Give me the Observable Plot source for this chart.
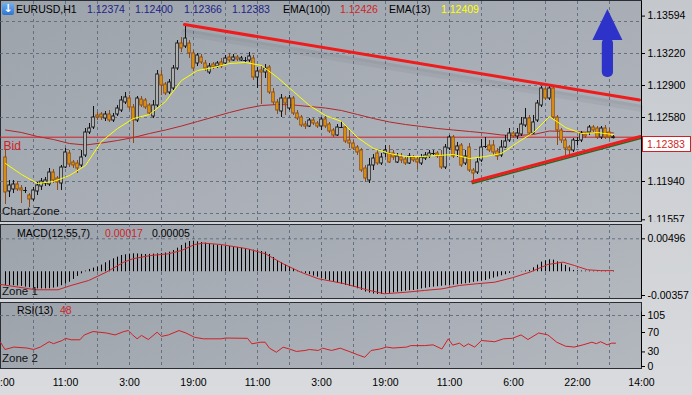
<!DOCTYPE html>
<html><head><meta charset="utf-8">
<script src="https://cdn.jsdelivr.net/npm/d3@7"></script>
<script src="https://cdn.jsdelivr.net/npm/@observablehq/plot@0.6"></script>
<style>
body{margin:0;background:#c9ccd1;}
#wrap{position:relative;width:692px;height:395px;overflow:hidden;background:linear-gradient(180deg,#c4c7cc,#d9dbde);font-family:"Liberation Sans",Arial,sans-serif;}
.panel{position:absolute;left:0;width:642px;box-sizing:border-box;border:1px solid #2a2d33;background:linear-gradient(160deg,#9da3ab,#b3b8bf);}
.lbl{position:absolute;white-space:nowrap;font-size:10.5px;line-height:13px;color:#000;}
#wrap svg{position:absolute;left:0;}
</style></head>
<body><div id="wrap">
<div class="panel" style="top:0;height:222px"></div>
<div class="panel" style="top:224px;height:75px"></div>
<div class="panel" style="top:302px;height:67px"></div>
</div>
<script>
// ---------- DATA ----------
const symbol = "EURUSD,H1";
const lastBar = [1.12374, 1.12400, 1.12366, 1.12383];
const bid = 1.12383;
const ema100Last = 1.12426, ema13Last = 1.12409;

const open = [1.1218,1.1184,1.1186,1.1191,1.1187,1.1185,1.1180,1.1176,1.1184,1.1189,
1.1192,1.1191,1.1203,1.1197,1.1192,1.1208,1.1222,1.1213,1.1212,1.1210,
1.1220,1.1243,1.1248,1.1260,1.1261,1.1257,1.1261,1.1255,1.1261,1.1265,
1.1273,1.1277,1.1268,1.1255,1.1276,1.1275,1.1270,1.1259,1.1270,1.1300,
1.1291,1.1283,1.1287,1.1307,1.1332,1.1329,1.1332,1.1322,1.1312,1.1318,
1.1312,1.1303,1.1311,1.1309,1.1313,1.1312,1.1318,1.1315,1.1318,1.1315,
1.1315,1.1315,1.1317,1.1298,1.1305,1.1303,1.1308,1.1283,1.1273,1.1264,
1.1277,1.1267,1.1277,1.1262,1.1258,1.1251,1.1249,1.1255,1.1252,1.1249,
1.1256,1.1251,1.1245,1.1240,1.1248,1.1248,1.1235,1.1232,1.1228,1.1225,
1.1207,1.1195,1.1210,1.1222,1.1212,1.1222,1.1222,1.1222,1.1213,1.1218,
1.1216,1.1212,1.1218,1.1216,1.1212,1.1217,1.1219,1.1222,1.1222,1.1219,
1.1208,1.1227,1.1238,1.1225,1.1230,1.1212,1.1228,1.1205,1.1203,1.1215,
1.1229,1.1230,1.1230,1.1224,1.1220,1.1228,1.1235,1.1242,1.1239,1.1241,
1.1250,1.1257,1.1242,1.1255,1.1270,1.1286,1.1277,1.1287,1.1258,1.1245,
1.1235,1.1228,1.1225,1.1235,1.1235,1.1241,1.1243,1.1248,1.1247,1.1238,
1.1247,1.1243,1.12374];
const high = [1.1225,1.1195,1.1195,1.1194,1.1190,1.1188,1.1182,1.1188,1.1193,1.1197,
1.1198,1.1207,1.1206,1.1199,1.1210,1.1227,1.1225,1.1215,1.1215,1.1225,
1.1247,1.1252,1.1269,1.1263,1.1263,1.1264,1.1265,1.1262,1.1270,1.1279,
1.1283,1.1280,1.1271,1.1279,1.1279,1.1277,1.1272,1.1275,1.1305,1.1305,
1.1293,1.1296,1.1310,1.1335,1.1338,1.1351,1.1335,1.1325,1.1322,1.1321,
1.1315,1.1312,1.1313,1.1314,1.1317,1.1320,1.1322,1.1321,1.1320,1.1319,
1.1318,1.1323,1.1320,1.1308,1.1309,1.1311,1.1310,1.1287,1.1276,1.1281,
1.1279,1.1280,1.1279,1.1265,1.1260,1.1254,1.1257,1.1257,1.1254,1.1258,
1.1259,1.1253,1.1247,1.1251,1.1254,1.1250,1.1245,1.1235,1.1230,1.1227,
1.1210,1.1217,1.1221,1.1225,1.1222,1.1230,1.1230,1.1225,1.1222,1.1222,
1.1218,1.1222,1.1220,1.1218,1.1221,1.1223,1.1225,1.1225,1.1224,1.1225,
1.1231,1.1240,1.1240,1.1233,1.1232,1.1225,1.1232,1.1207,1.1217,1.1236,
1.1238,1.1235,1.1235,1.1227,1.1235,1.1240,1.1247,1.1244,1.1247,1.1258,
1.1267,1.1260,1.1260,1.1275,1.1289,1.1288,1.1289,1.1289,1.1260,1.1247,
1.1237,1.1230,1.1237,1.1238,1.1244,1.1243,1.1250,1.1250,1.1249,1.1249,
1.1250,1.1247,1.12400];
const low = [1.1171,1.1178,1.1182,1.1184,1.1172,1.1182,1.1168,1.1174,1.1180,1.1185,
1.1189,1.1189,1.1192,1.1185,1.1185,1.1207,1.1208,1.1207,1.1202,1.1208,
1.1218,1.1241,1.1246,1.1255,1.1255,1.1254,1.1253,1.1253,1.1259,1.1263,
1.1271,1.1265,1.1232,1.1253,1.1268,1.1266,1.1260,1.1257,1.1268,1.1280,
1.1280,1.1281,1.1285,1.1305,1.1323,1.1327,1.1317,1.1304,1.1309,1.1311,
1.1304,1.1301,1.1306,1.1307,1.1307,1.1310,1.1313,1.1314,1.1314,1.1314,
1.1313,1.1313,1.1295,1.1287,1.1271,1.1297,1.1281,1.1270,1.1261,1.1258,
1.1260,1.1265,1.1260,1.1255,1.1248,1.1246,1.1248,1.1250,1.1247,1.1245,
1.1247,1.1242,1.1238,1.1239,1.1247,1.1232,1.1227,1.1225,1.1220,1.1203,
1.1193,1.1192,1.1205,1.1210,1.1210,1.1218,1.1212,1.1215,1.1212,1.1212,
1.1210,1.1211,1.1213,1.1206,1.1210,1.1215,1.1217,1.1220,1.1217,1.1206,
1.1206,1.1225,1.1217,1.1218,1.1208,1.1210,1.1203,1.1193,1.1201,1.1213,
1.1227,1.1223,1.1220,1.1215,1.1218,1.1227,1.1233,1.1237,1.1236,1.1239,
1.1248,1.1240,1.1241,1.1253,1.1268,1.1275,1.1275,1.1256,1.1230,1.1232,
1.1220,1.1220,1.1223,1.1230,1.1233,1.1237,1.1240,1.1242,1.1236,1.1236,
1.1236,1.1236,1.12366];
const close = [1.1183,1.1190,1.1191,1.1186,1.1185,1.1185,1.1176,1.1185,1.1190,1.1194,
1.1195,1.1203,1.1195,1.1193,1.1208,1.1223,1.1211,1.1210,1.1207,1.1218,
1.1243,1.1247,1.1258,1.1258,1.1258,1.1261,1.1255,1.1259,1.1267,1.1275,
1.1278,1.1268,1.1255,1.1277,1.1270,1.1268,1.1262,1.1270,1.1301,1.1290,
1.1282,1.1293,1.1307,1.1332,1.1327,1.1337,1.1322,1.1307,1.1320,1.1313,
1.1307,1.1309,1.1308,1.1312,1.1309,1.1317,1.1315,1.1318,1.1316,1.1317,
1.1315,1.1319,1.1298,1.1304,1.1303,1.1307,1.1283,1.1273,1.1265,1.1277,
1.1272,1.1277,1.1262,1.1257,1.1250,1.1249,1.1255,1.1252,1.1249,1.1256,
1.1249,1.1244,1.1240,1.1248,1.1248,1.1234,1.1232,1.1227,1.1223,1.1205,
1.1197,1.1210,1.1217,1.1212,1.1218,1.1225,1.1213,1.1218,1.1219,1.1215,
1.1212,1.1219,1.1215,1.1213,1.1218,1.1220,1.1222,1.1222,1.1219,1.1208,
1.1228,1.1238,1.1219,1.1229,1.1210,1.1219,1.1205,1.1202,1.1213,1.1228,
1.1229,1.1225,1.1223,1.1219,1.1228,1.1234,1.1242,1.1239,1.1242,1.1251,
1.1257,1.1242,1.1253,1.1272,1.1287,1.1277,1.1287,1.1258,1.1245,1.1235,
1.1227,1.1225,1.1235,1.1235,1.1242,1.1239,1.1248,1.1245,1.1238,1.1247,
1.1238,1.1238,1.12383];

// moving averages read every 4th bar
const emaIdx = [0,4,8,12,16,20,24,28,32,36,40,44,48,52,56,60,64,68,72,76,80,84,88,92,96,100,104,108,112,116,120,124,128,132,136,140,144,148,152];
const ema13 = [1.1212,1.1201,1.1192,1.1194,1.1200,1.1210,1.1234,1.1247,1.1257,1.1261,1.1274,1.1295,1.1305,1.1308,1.1312,1.1313,1.1310,1.1298,1.1284,1.1270,1.1260,1.1254,1.1238,1.1227,1.1222,1.1219,1.1219,1.1220,1.1221,1.1217,1.1219,1.1222,1.1233,1.1243,1.1259,1.1248,1.1242,1.1243,1.12409];
const ema100 = [1.12455,1.1243,1.1239,1.1236,1.1232,1.12305,1.12325,1.1235,1.1238,1.1242,1.12455,1.12495,1.1254,1.12585,1.1263,1.1267,1.1270,1.1271,1.12705,1.1269,1.12675,1.1265,1.1261,1.1257,1.12535,1.1251,1.1249,1.1247,1.12455,1.1244,1.12425,1.12405,1.1240,1.1241,1.12445,1.1244,1.12435,1.1243,1.12426];

// trend lines (bar index, price)
const upperTrendIdx = [44.75, 158.5], upperTrendPrice = [1.1351, 1.12755];
const lowerTrendIdx = [116.75, 158.75], lowerTrendPrice = [1.1194, 1.1239];
// arrow object
const arrowAt = 150.6, arrowTip = 1.1366, arrowNeck = 1.1335, arrowTail = 1.1298;

// axes
const priceTicks = [1.13594, 1.13220, 1.12900, 1.12580, 1.11940, 1.11557];
const priceGrid = [1.13540, 1.13220, 1.12900, 1.12580, 1.12260, 1.11940, 1.11620];
const timeIdx = [-1, 15, 31, 47, 63, 79, 95, 111, 127, 143, 159];
const timeLabels = ["19:00","11:00","3:00","19:00","11:00","3:00","19:00","11:00","6:00","22:00","14:00"];
const gridIdx = [7,15,23,31,39,47,55,63,71,79,87,95,103,111,119,127,135,143,151];

// MACD(12,55,7)
const macdHist = [-0.00206,-0.00208,-0.00210,-0.00215,-0.00220,-0.00231,-0.00240,-0.00248,-0.00257,-0.00258,
-0.00257,-0.00255,-0.00245,-0.00231,-0.00210,-0.00185,-0.00157,-0.00115,-0.00070,-0.00031,
0.00010,0.00035,0.00055,0.00070,0.00100,0.00135,0.00165,0.00195,0.00220,0.00245,
0.00255,0.00265,0.00270,0.00268,0.00262,0.00260,0.00262,0.00265,0.00270,0.00275,
0.00282,0.00295,0.00320,0.00355,0.00395,0.00430,0.00455,0.00461,0.00450,0.00440,
0.00430,0.00415,0.00405,0.00398,0.00392,0.00385,0.00380,0.00372,0.00365,0.00355,
0.00346,0.00335,0.00325,0.00315,0.00305,0.00295,0.00260,0.00215,0.00170,0.00135,
0.00100,0.00070,0.00040,0.00015,-0.00006,-0.00025,-0.00045,-0.00065,-0.00081,-0.00100,
-0.00120,-0.00140,-0.00157,-0.00175,-0.00190,-0.00205,-0.00220,-0.00231,-0.00255,-0.00280,
-0.00305,-0.00320,-0.00335,-0.00342,-0.00340,-0.00332,-0.00325,-0.00315,-0.00307,-0.00300,
-0.00292,-0.00285,-0.00281,-0.00270,-0.00258,-0.00248,-0.00238,-0.00231,-0.00225,-0.00218,
-0.00210,-0.00206,-0.00200,-0.00195,-0.00188,-0.00180,-0.00172,-0.00160,-0.00150,-0.00140,
-0.00131,-0.00112,-0.00095,-0.00078,-0.00060,-0.00045,-0.00025,-0.00010,0.00000,0.00005,
0.00012,0.00020,0.00060,0.00100,0.00145,0.00165,0.00180,0.00175,0.00150,0.00120,
0.00095,0.00060,0.00020,0.00015,0.00012,0.00010,0.00010,0.00008,0.00008,0.00006,
0.00006,0.00005,0.00005];
const signalIdx = [-1.25,3.2,7.6,13.1,16.4,20.8,25.2,29.6,31.8,36.3,40.7,44,47.3,49.5,53.9,60.5,65,69.4,73.8,78.2,84.8,90.3,94.7,100.3,104.7,109.1,113.5,117.9,122.3,126.7,131.1,135.6,139.4,142.2,145.5,148.8,152];
const signalVal = [-0.00191,-0.00231,-0.00271,-0.00271,-0.00206,-0.00131,-0.00006,0.00145,0.00195,0.00245,0.00270,0.00320,0.00410,0.00431,0.00410,0.00346,0.00270,0.00120,-0.00006,-0.00105,-0.00180,-0.00271,-0.00331,-0.00307,-0.00281,-0.00257,-0.00206,-0.00180,-0.00157,-0.00090,-0.00006,0.00110,0.00145,0.00095,0.00030,0.00017,0.00017];
const macdTicks = [0.00496, -0.00357];
const macdLast = [0.00017, 0.00005];

// RSI(13)
const rsiIdx = [-1.25,-0.15,2.1,5.4,7,8.7,10.9,12,14.2,15,16.4,18.6,19.7,21.9,25.2,27.4,29.6,30.7,31.8,32.9,34,35.7,37.9,39,40.7,43.4,45.1,47.3,49.5,53.9,55,60.5,61.6,63.8,64.9,66,67.7,69.4,71,72.7,74.9,76,78.2,79.3,81.5,83.7,85.9,88.1,89.8,91.4,93.6,95.3,96.9,100.3,101.3,104.7,106.9,109.1,110.7,111.8,113.5,114.6,115.7,117.3,119,122.3,124.5,126.7,128.9,130.6,133.3,135.6,137.8,140,142.2,144.4,146.6,147.7,148.8,150.4,151.5,152.5];
const rsiVal = [50,35,40,38,35,40,51,47,53.5,58,55,55,65,72,69,65,72,74,65,57,64,55.5,70.6,62,65,74,69,60,57,57,58.6,58,46.7,50,50,37.7,29.4,39.7,36,31,33,35,33,37.7,33,37.7,31,24,19,33,36,40,38,40,43,43,44.6,36,57,44,48,41,46.7,40,53.5,51,57,58,65,55.5,69,65,50,41.8,40,44.6,50,47,51,44.6,48,48];
const rsiTicks = [105, 70, 30, 0];

// ---------- BUILD ----------
const candles = open.map((o, k) => ({i: k, o, h: high[k], l: low[k], c: close[k]}));
const bull = candles.filter(d => d.c > d.o), bear = candles.filter(d => d.c < d.o), doji = candles.filter(d => d.c === d.o);
const emaRows13 = emaIdx.map((i, k) => ({i, v: ema13[k]}));
const emaRows100 = emaIdx.map((i, k) => ({i, v: ema100[k]}));
const upperTL = upperTrendIdx.map((i, k) => ({i, v: upperTrendPrice[k]}));
const lowerTL = lowerTrendIdx.map((i, k) => ({i, v: lowerTrendPrice[k]}));
const headPts = [{i: arrowAt - 3.75, v: arrowNeck}, {i: arrowAt, v: arrowTip}, {i: arrowAt + 3.75, v: arrowNeck}];
const histRows = macdHist.map((v, i) => ({i, v}));
const sigRows = signalIdx.map((i, k) => ({i, v: signalVal[k]}));
const rsiRows = rsiIdx.map((i, k) => ({i, v: rsiVal[k]}));

const X = {domain: [-1.25, 159], range: [0, 641], axis: null};
const font = "Liberation Sans, Arial, sans-serif";
const grid = {stroke: "#5b6575", strokeOpacity: 0.85, strokeDasharray: "3,3"};
const baseStyle = top => ({position: "absolute", left: "0px", top: top + "px", background: "transparent", fontFamily: font, fontSize: "10.5px", color: "#000", overflow: "hidden"});

const main = Plot.plot({
  width: 692, height: 222, marginLeft: 0, marginRight: 51, marginTop: 1, marginBottom: 1,
  style: baseStyle(0),
  x: X,
  y: {domain: [1.1153, 1.1375], range: [222, 0], axis: null},
  marks: [
    Plot.ruleX(gridIdx, grid),
    Plot.ruleY(priceGrid, grid),
    Plot.line(upperTL, {x: "i", y: "v", stroke: "#454a52", strokeOpacity: 0.07, strokeWidth: 7, dy: 8}),
    Plot.line(upperTL, {x: "i", y: "v", stroke: "#454a52", strokeOpacity: 0.06, strokeWidth: 3, dy: 6}),
    Plot.line(emaRows100, {x: "i", y: "v", stroke: "#b3262b", strokeWidth: 1}),
    Plot.ruleY([bid], {stroke: "#d11f26", strokeWidth: 1}),
    Plot.ruleX(bull, {x: "i", y1: "l", y2: "h", stroke: "#111"}),
    Plot.ruleX(bear, {x: "i", y1: "l", y2: "h", stroke: "#8f4a12"}),
    Plot.ruleX(doji, {x: "i", y1: "l", y2: "h", stroke: "#111"}),
    Plot.rect(bull, {x1: d => d.i - 0.3, x2: d => d.i + 0.3, y1: "o", y2: "c", fill: "#f2f5f5", stroke: "#111", strokeWidth: 1}),
    Plot.rect(bear, {x1: d => d.i - 0.3, x2: d => d.i + 0.3, y1: "o", y2: "c", fill: "#f4a80f", stroke: "#8f4a12", strokeWidth: 1}),
    Plot.ruleY(doji, {y: "c", x1: d => d.i - 0.45, x2: d => d.i + 0.45, stroke: "#111"}),
    Plot.line(emaRows13, {x: "i", y: "v", stroke: "#ffff00", strokeWidth: 1}),
    Plot.line(lowerTL, {x: "i", y: "v", stroke: "#1f6b22", strokeWidth: 1.5, dy: 2}),
    Plot.line(upperTL, {x: "i", y: "v", stroke: "#ee1c1c", strokeWidth: 3}),
    Plot.line(lowerTL, {x: "i", y: "v", stroke: "#ee1c1c", strokeWidth: 3}),
    Plot.rect([0], {x1: arrowAt - 1.4, x2: arrowAt + 1.4, y1: arrowTail, y2: arrowNeck + 0.0002, fill: "#2d33c9", rx: 5}),
    Plot.areaY(headPts, {x: "i", y1: arrowNeck, y2: "v", fill: "#2d33c9"}),
    Plot.text(["Bid"], {x: -1.25, y: bid, dx: 3, dy: 9, text: d => d, textAnchor: "start", fill: "#d11f26", fontSize: 12}),
    Plot.ruleX([159], {stroke: "#000"}),
    Plot.ruleY(priceTicks, {x1: 159, x2: 160, stroke: "#000"}),
    Plot.text(priceTicks, {x: 159, y: d => d, text: d => d.toFixed(5), dx: 6, textAnchor: "start", fill: "#000", fontSize: 10.5})
  ]
});

const macd = Plot.plot({
  width: 692, height: 78, marginLeft: 0, marginRight: 51, marginTop: 2, marginBottom: 2,
  style: baseStyle(222),
  x: X,
  y: {domain: [-0.00357, 0.00496], range: [73, 16.3], axis: null},
  marks: [
    Plot.ruleX(gridIdx, grid),
    Plot.ruleY([macdTicks[0]], grid),
    Plot.ruleX(histRows, {x: "i", y1: 0, y2: "v", stroke: "#000", strokeWidth: 1}),
    Plot.line(sigRows, {x: "i", y: "v", stroke: "#cc2229", strokeWidth: 1}),
    Plot.ruleX([159], {stroke: "#000"}),
    Plot.ruleY(macdTicks, {x1: 159, x2: 160, stroke: "#000"}),
    Plot.text(macdTicks, {x: 159, y: d => d, text: d => d.toFixed(5), dx: 6, textAnchor: "start", fill: "#000", fontSize: 10.5})
  ]
});

const rsi = Plot.plot({
  width: 692, height: 95, marginLeft: 0, marginRight: 51, marginTop: 2, marginBottom: 27,
  style: baseStyle(300),
  x: X,
  y: {domain: [0, 105], range: [66, 15], axis: null},
  marks: [
    Plot.ruleX(gridIdx, grid),
    Plot.ruleY([105], grid),
    Plot.line(rsiRows, {x: "i", y: "v", stroke: "#d01f26", strokeWidth: 1}),
    Plot.ruleX([159], {x: d => d, y1: 0, y2: 112, stroke: "#000"}),
    Plot.ruleY(rsiTicks, {x1: 159, x2: 160, stroke: "#000"}),
    Plot.text(rsiTicks, {x: 159, y: d => d, text: d => String(d), dx: 6, textAnchor: "start", fill: "#000", fontSize: 10.5}),
    Plot.text(timeIdx, {x: d => d, y: 0, dy: 16, text: (d, k) => timeLabels[k], fill: "#000", fontSize: 10.5})
  ]
});

const wrap = document.getElementById("wrap");
wrap.append(main, macd, rsi);

function label(text, left, top, color, size) {
  const s = document.createElement("div");
  s.className = "lbl";
  s.textContent = text;
  s.style.left = left + "px"; s.style.top = top + "px";
  if (color) s.style.color = color;
  if (size) s.style.fontSize = size + "px";
  wrap.append(s);
  return s;
}
// header icon
const icon = document.createElement("div");
icon.style.cssText = "position:absolute;left:2px;top:3px;width:12px;height:12px;border-radius:2px;background:linear-gradient(#6fb0f0,#2e74d0);color:#fff;font:bold 11px/12px 'DejaVu Sans',sans-serif;text-align:center;";
icon.textContent = "\u2193";
wrap.append(icon);
const navy = "#1d1f8a";
label(symbol, 16, 3);
[87, 135, 184, 232].forEach((x, k) => label(lastBar[k].toFixed(5), x, 3, navy));
label("EMA(100)", 283, 3);
label(ema100Last.toFixed(5), 340, 3, "#d11f26");
label("EMA(13)", 389, 3);
label(ema13Last.toFixed(5), 441, 3, "#ffff00");

label("Chart Zone", 2, 205, "#111", 11.5);
label("MACD(12,55,7)", 17, 227);
label(macdLast[0].toFixed(5), 105, 227, "#d11f26");
label(macdLast[1].toFixed(5), 152, 227);
label("Zone 1", 2, 285, "#111", 11.5);
label("RSI(13)", 17, 304);
label(String(rsiVal[rsiVal.length - 1]), 60, 304, "#d11f26");
label("Zone 2", 2, 352, "#111", 11.5);

// bid price box on the right axis
const by = main.scale("y").apply(bid);
const box = document.createElement("div");
box.style.cssText = `position:absolute;left:642px;top:${by - 0.5}px;width:49px;height:16px;box-sizing:border-box;border:1px solid #d11f26;background:#fff;color:#d11f26;font-size:10.5px;line-height:14px;padding-left:4px;font-family:${font}`;
box.textContent = bid.toFixed(5);
wrap.append(box);
</script>
</body></html>
